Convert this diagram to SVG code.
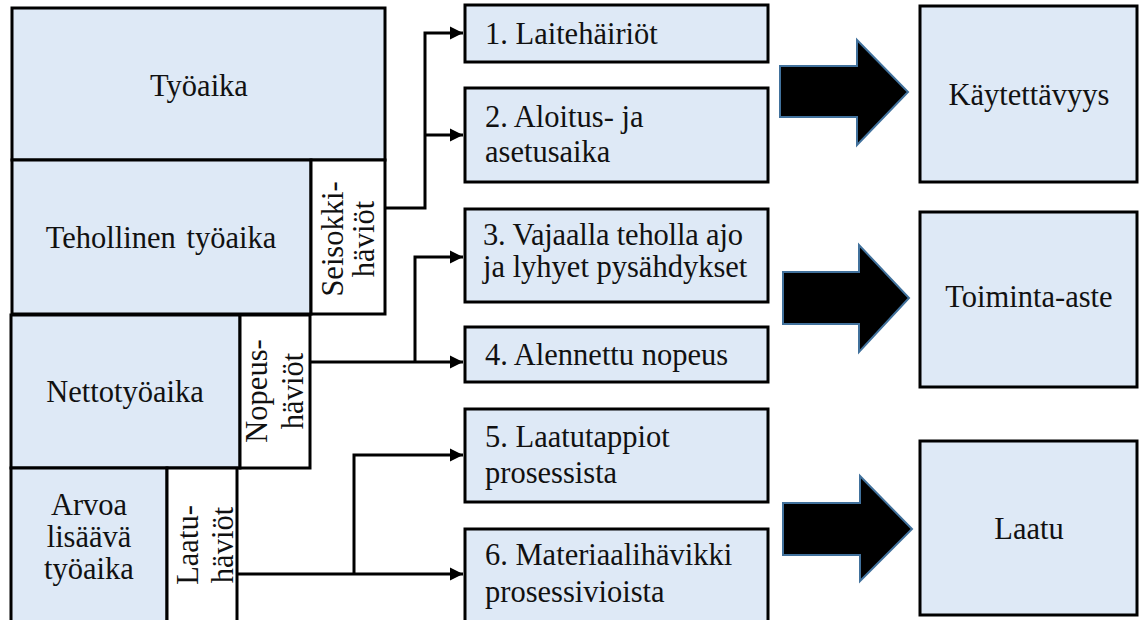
<svg xmlns="http://www.w3.org/2000/svg" width="1139" height="620" viewBox="0 0 1139 620">
<style>
.b{fill:#dee9f6;stroke:#000;stroke-width:3}
.w{fill:#fff;stroke:#000;stroke-width:3}
text{font-family:'Liberation Serif','Times New Roman','DejaVu Serif',serif;font-size:30.5px;fill:#111}
.c{text-anchor:middle}
.ln{fill:none;stroke:#000;stroke-width:3}
.ba{fill:#000;stroke:#41719c;stroke-width:2;stroke-linejoin:miter}
</style>
<defs>
<marker id="ah" viewBox="0 0 10 10" refX="10" refY="5" markerWidth="4.5" markerHeight="4.5" markerUnits="strokeWidth" orient="auto">
<path d="M0,0 L10,5 L0,10 Z" fill="#000"/>
</marker>
</defs>
<rect width="1139" height="620" fill="#fff"/>
<g id="tyoaika"><rect class="b" x="12" y="8" width="373" height="152"/><text class="c" x="199" y="96">Työaika</text></g>
<g id="tehollinen"><rect class="b" x="12" y="160" width="299" height="154"/><text class="c" x="161" y="248" word-spacing="3">Tehollinen työaika</text></g>
<g id="seisokki"><rect class="w" x="311" y="160" width="74" height="154"/><text class="c" transform="translate(343,239) rotate(-90)">Seisokki-</text><text class="c" transform="translate(374,239) rotate(-90)">häviöt</text></g>
<g id="netto"><rect class="b" x="11" y="315" width="229" height="153"/><text class="c" x="125" y="402">Nettotyöaika</text></g>
<g id="nopeus"><rect class="w" x="240" y="315" width="70" height="153"/><text class="c" transform="translate(267,391) rotate(-90)">Nopeus-</text><text class="c" transform="translate(303,391) rotate(-90)">häviöt</text></g>
<g id="arvoa"><rect class="b" x="11" y="468" width="156" height="160"/><text class="c" x="89" y="515">Arvoa</text><text class="c" x="89" y="547">lisäävä</text><text class="c" x="89" y="579">työaika</text></g>
<g id="laatuhaviot"><rect class="w" x="167" y="468" width="70" height="160"/><text class="c" transform="translate(198,545) rotate(-90)">Laatu-</text><text class="c" transform="translate(233,545) rotate(-90)">häviöt</text></g>
<g id="n1"><rect class="b" x="465" y="5" width="303" height="57"/><text x="485" y="44">1. Laitehäiriöt</text></g>
<g id="n2"><rect class="b" x="465" y="88" width="303" height="94"/><text x="485" y="127">2. Aloitus- ja</text><text x="485" y="162">asetusaika</text></g>
<g id="n3"><rect class="b" x="465" y="209" width="303" height="93"/><text x="483" y="245" textLength="260" lengthAdjust="spacing">3. Vajaalla teholla ajo</text><text x="483" y="277">ja lyhyet pysähdykset</text></g>
<g id="n4"><rect class="b" x="465" y="327" width="303" height="55"/><text x="485" y="365">4. Alennettu nopeus</text></g>
<g id="n5"><rect class="b" x="465" y="409" width="303" height="93"/><text x="485" y="447">5. Laatutappiot</text><text x="485" y="483">prosessista</text></g>
<g id="n6"><rect class="b" x="465" y="529" width="303" height="100"/><text x="485" y="565">6. Materiaalihävikki</text><text x="485" y="602">prosessivioista</text></g>
<g id="kaytettavyys"><rect class="b" x="920" y="6" width="217" height="176"/><text class="c" x="1029" y="105">Käytettävyys</text></g>
<g id="toiminta"><rect class="b" x="920" y="212" width="217" height="175"/><text class="c" x="1029" y="307">Toiminta-aste</text></g>
<g id="laatu"><rect class="b" x="920" y="441" width="217" height="174"/><text class="c" x="1029" y="539">Laatu</text></g>
<g id="connectors">
<path class="ln" d="M385,208 H425 V33 H463" marker-end="url(#ah)"/>
<path class="ln" d="M425,135 H463" marker-end="url(#ah)"/>
<path class="ln" d="M310,362 H463" marker-end="url(#ah)"/>
<path class="ln" d="M415,362 V257 H463" marker-end="url(#ah)"/>
<path class="ln" d="M237,574 H463" marker-end="url(#ah)"/>
<path class="ln" d="M354,574 V455 H463" marker-end="url(#ah)"/>
<path class="ba" d="M780,66 H857 V40 L908,92 L857,145 V117 H780 Z"/>
<path class="ba" d="M783,272 H859 V245 L909,298 L859,352 V324 H783 Z"/>
<path class="ba" d="M783,503 H860 V476 L912,529 L860,581 V555 H783 Z"/>
</g>
</svg>
